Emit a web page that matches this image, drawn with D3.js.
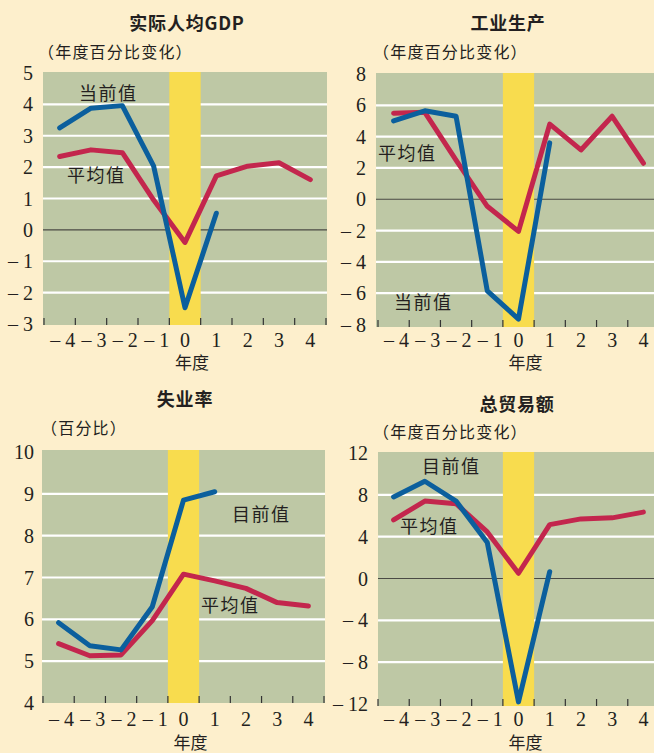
<!DOCTYPE html>
<html>
<head>
<meta charset="utf-8">
<script src="https://cdn.jsdelivr.net/npm/d3@7"></script>
<style>
  html, body { margin: 0; padding: 0; background: #fdefcc; }
  svg { display: block; }
</style>
</head>
<body>
<svg id="chart" width="654" height="753"></svg>
<script>
'use strict'

/****** DATA ******/

const years = [-4, -3, -2, -1, 0, 1, 2, 3, 4]

// 实际人均GDP
const gdpCurrent = [3.25, 3.88, 3.96, 2.03, -2.48, 0.53]
const gdpAverage = [2.34, 2.55, 2.46, 0.95, -0.4, 1.72, 2.03, 2.14, 1.6]

// 工业生产
const ipCurrent = [5.0, 5.65, 5.3, -5.85, -7.65, 3.6]
const ipAverage = [5.5, 5.55, 2.5, -0.45, -2.05, 4.8, 3.15, 5.3, 2.3]

// 失业率
const unCurrent = [5.92, 5.37, 5.27, 6.3, 8.85, 9.05]
const unAverage = [5.42, 5.13, 5.15, 5.97, 7.08, 6.92, 6.74, 6.4, 6.32]

// 总贸易额
const trCurrent = [7.8, 9.3, 7.4, 3.45, -11.8, 0.65]
const trAverage = [5.6, 7.4, 7.15, 4.45, 0.5, 5.15, 5.7, 5.8, 6.35]

const titles = ['实际人均GDP', '工业生产', '失业率', '总贸易额']
const units = ['（年度百分比变化）', '（年度百分比变化）', '（百分比）', '（年度百分比变化）']
const currentNames = ['当前值', '当前值', '目前值', '目前值']
const averageName = '平均值'
const xTitle = '年度'

const gdpTicks = [-3, -2, -1, 0, 1, 2, 3, 4, 5]
const ipTicks = [-8, -6, -4, -2, 0, 2, 4, 6, 8]
const unTicks = [4, 5, 6, 7, 8, 9, 10]
const trTicks = [-12, -8, -4, 0, 4, 8, 12]


/****** STYLE ******/

const COL_PLOT = '#bec8a5'
const COL_BAND = '#f8dc4e'
const COL_CURRENT = '#0b5f9d'
const COL_AVERAGE = '#c3264d'
const COL_TEXT = '#231f20'
const SERIF = '"Liberation Serif", "DejaVu Serif", serif'
const CJK = '"Noto Sans CJK SC", "Noto Sans", sans-serif'

const fmt = v => v < 0 ? `\u2013 ${Math.abs(v)}` : `${v}`

// layout per panel (pixel boxes)
const panels = [
  { cur: gdpCurrent, avg: gdpAverage, ticks: gdpTicks, domain: [-3, 5],
    bx: [44, 326], by: [324, 73], bg: [43, 72, 327, 325], labRight: 33,
    titleX: 187, titleY: 30, unitX: 38, unitY: 58,
    curLab: [79, 100], avgLab: [67, 182], xLabY: 347, xTitleY: 369 },
  { cur: ipCurrent, avg: ipAverage, ticks: ipTicks, domain: [-8, 8],
    bx: [378, 659], by: [324.5, 74], bg: [376, 73, 654, 327], labRight: 366,
    titleX: 508, titleY: 30, unitX: 373, unitY: 58,
    curLab: [394, 309], avgLab: [378, 160], xLabY: 347, xTitleY: 369 },
  { cur: unCurrent, avg: unAverage, ticks: unTicks, domain: [4, 10],
    bx: [43, 324], by: [703, 452], bg: [42, 450, 325, 703], labRight: 34,
    titleX: 185, titleY: 406, unitX: 41, unitY: 434,
    curLab: [232, 521], avgLab: [201, 612], xLabY: 726, xTitleY: 749 },
  { cur: trCurrent, avg: trAverage, ticks: trTicks, domain: [-12, 12],
    bx: [378, 659], by: [704, 453], bg: [378, 452, 654, 706], labRight: 368,
    titleX: 517, titleY: 411, unitX: 373, unitY: 438,
    curLab: [422, 473], avgLab: [400, 533], xLabY: 726, xTitleY: 749 }
]


/****** DRAW ******/

const svg = d3.select('#chart')

function drawPanel(p, i) {
  const g = svg.append('g')

  const x = d3.scaleBand().domain(years).range(p.bx)
  const y = d3.scaleLinear().domain(p.domain).range(p.by)
  const cx = d => x(d) + x.bandwidth() / 2
  const [l, t, r, b] = p.bg

  // plot background
  g.append('rect')
    .attr('x', l).attr('y', t)
    .attr('width', r - l).attr('height', b - t)
    .attr('fill', COL_PLOT)

  // white gridlines (skip bottom, top, zero)
  g.selectAll('.grid')
    .data(p.ticks.filter(v => v !== 0 && v !== p.domain[0] && v !== p.domain[1]))
    .join('line')
      .attr('x1', l).attr('x2', r)
      .attr('y1', d => y(d)).attr('y2', d => y(d))
      .attr('stroke', '#fff').attr('stroke-width', 2.2)

  // zero line
  if (p.domain[0] < 0) {
    g.append('line')
      .attr('x1', l).attr('x2', r)
      .attr('y1', y(0)).attr('y2', y(0))
      .attr('stroke', '#4a4a44').attr('stroke-width', 1.2)
  }

  // recession year band
  g.append('rect')
    .attr('x', x(0)).attr('y', t)
    .attr('width', x.bandwidth()).attr('height', b - t)
    .attr('fill', COL_BAND)

  // tick marks at band boundaries
  const bounds = years.map(d => x(d)).concat([x(4) + x.bandwidth()])
  g.selectAll('.tick')
    .data(bounds)
    .join('line')
      .attr('x1', d => d).attr('x2', d => d)
      .attr('y1', b - 7).attr('y2', b)
      .attr('stroke', '#333').attr('stroke-width', 1.2)

  // y labels
  g.selectAll('.ylab')
    .data(p.ticks)
    .join('text')
      .attr('x', p.labRight).attr('y', d => y(d))
      .attr('dy', '0.35em')
      .attr('text-anchor', 'end')
      .attr('font-family', SERIF).attr('font-size', 20)
      .attr('fill', COL_TEXT)
      .text(fmt)

  // x labels
  g.selectAll('.xlab')
    .data(years)
    .join('text')
      .attr('x', d => cx(d) + (d < 0 ? 3 : 0)).attr('y', p.xLabY)
      .attr('text-anchor', 'middle')
      .attr('font-family', SERIF).attr('font-size', 20)
      .attr('fill', COL_TEXT)
      .text(fmt)

  g.append('text')
    .attr('x', cx(0) + 7).attr('y', p.xTitleY)
    .attr('text-anchor', 'middle')
    .attr('font-family', CJK).attr('font-size', 17)
    .attr('fill', COL_TEXT)
    .text(xTitle)

  // lines
  const line = d3.line()
    .x((d, k) => cx(years[k]))
    .y(d => y(d))

  g.append('path')
    .attr('d', line(p.avg))
    .attr('fill', 'none').attr('stroke', COL_AVERAGE)
    .attr('stroke-width', 5).attr('stroke-linejoin', 'round').attr('stroke-linecap', 'round')

  g.append('path')
    .attr('d', line(p.cur))
    .attr('fill', 'none').attr('stroke', COL_CURRENT)
    .attr('stroke-width', 5).attr('stroke-linejoin', 'round').attr('stroke-linecap', 'round')

  // series labels
  g.append('text')
    .attr('x', p.curLab[0]).attr('y', p.curLab[1])
    .attr('font-family', CJK).attr('font-size', 18).attr('letter-spacing', 1.5)
    .attr('fill', COL_TEXT)
    .text(currentNames[i])

  g.append('text')
    .attr('x', p.avgLab[0]).attr('y', p.avgLab[1])
    .attr('font-family', CJK).attr('font-size', 18).attr('letter-spacing', 1.5)
    .attr('fill', COL_TEXT)
    .text(averageName)

  // title + unit
  g.append('text')
    .attr('x', p.titleX).attr('y', p.titleY)
    .attr('text-anchor', 'middle')
    .attr('font-family', CJK).attr('font-size', 18).attr('font-weight', 'bold')
    .attr('letter-spacing', 0.8)
    .attr('fill', COL_TEXT)
    .text(titles[i])

  g.append('text')
    .attr('x', p.unitX).attr('y', p.unitY)
    .attr('font-family', CJK).attr('font-size', 16).attr('letter-spacing', 1.2)
    .attr('fill', COL_TEXT)
    .text(units[i])
}

panels.forEach(drawPanel)
</script>
</body>
</html>
